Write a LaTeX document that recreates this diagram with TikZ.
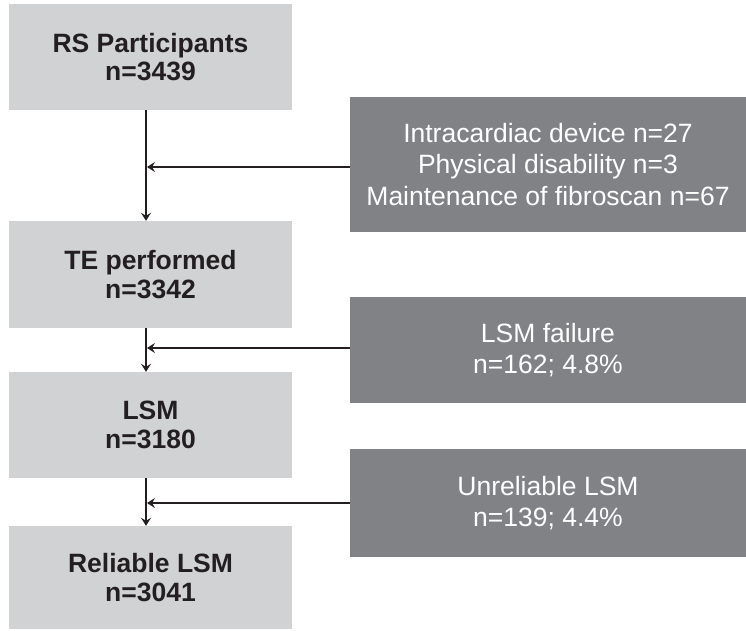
\documentclass[tikz,border=0pt]{standalone}
\usepackage{fontspec}
\setmainfont{Liberation Sans}
\usetikzlibrary{arrows.meta}
\definecolor{lbox}{HTML}{D1D2D4}
\definecolor{dbox}{HTML}{808285}
\definecolor{ink}{HTML}{231F20}
\begin{document}
\begin{tikzpicture}[x=1pt,y=-1pt,
 leftbox/.style={fill=lbox, draw=none, minimum width=283pt, inner sep=0pt, align=center, text=ink, font=\bfseries\fontsize{26.5}{28.5}\selectfont},
 rightbox/.style={fill=dbox, draw=none, minimum width=396pt, inner sep=0pt, align=center, text=white, font=\fontsize{26.5}{31.5}\selectfont},
 arr/.style={draw=ink, line width=2.2pt, -{Stealth[length=8pt,width=10pt,inset=3pt]}}]
\useasboundingbox (0,0) rectangle (746,630);
\node[leftbox, minimum height=106pt] (b1) at (150.5,57) {RS Participants\\n=3439};
\node[leftbox, minimum height=107pt] (b2) at (150.5,274.5) {TE performed\\n=3342};
\node[leftbox, minimum height=106pt] (b3) at (150.5,425) {LSM\\n=3180};
\node[leftbox, minimum height=103pt] (b4) at (150.5,577.5) {Reliable LSM\\n=3041};
\node[rightbox, minimum height=135pt] (rA) at (548,164.5) {Intracardiac device n=27\\Physical disability n=3\\Maintenance of fibroscan n=67};
\node[rightbox, minimum height=106pt] (rB) at (548,350) {LSM failure\\n=162; 4.8\%};
\node[rightbox, minimum height=108pt] (rC) at (548,503) {Unreliable LSM\\n=139; 4.4\%};
\coordinate (v) at (146,0);
\coordinate (j1) at (147,167);
\coordinate (j2) at (147,348);
\coordinate (j3) at (147,503);
\draw[arr] (b1.south -| v) -- (b2.north -| v);
\draw[arr] (b2.south -| v) -- (b3.north -| v);
\draw[arr] (b3.south -| v) -- (b4.north -| v);
\draw[arr] (rA.west |- j1) -- (j1);
\draw[arr] (rB.west |- j2) -- (j2);
\draw[arr] (rC.west |- j3) -- (j3);
\end{tikzpicture}
\end{document}
